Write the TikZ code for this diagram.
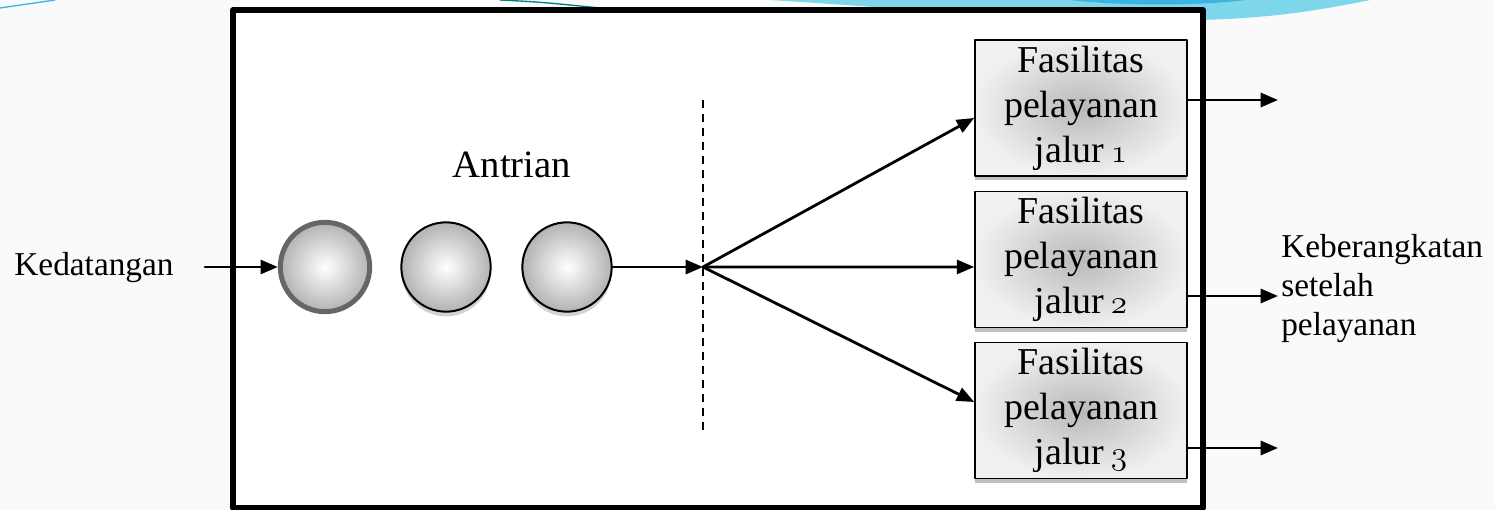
\documentclass[tikz,border=0pt]{standalone}
\usepackage{fontspec}
\setmainfont{Liberation Serif}
\usetikzlibrary{arrows.meta,shadows}
\definecolor{langit}{RGB}{125,214,234}
\definecolor{lautbiru}{RGB}{60,180,225}
\definecolor{tepi}{RGB}{102,102,102}
\newcommand{\angka}[1]{{\usefont{OML}{lmm}{m}{it}#1}}
\tikzset{
  bola/.style={circle,minimum size=67pt,inner sep=0pt,draw=black,line width=1.5pt,inner color=white,outer color=gray!60},
  pelanggan/.style={bola,drop shadow={opacity=0.35,shadow xshift=0pt,shadow yshift=-3.5pt}},
  fasilitas/.style={rectangle,draw=black,line width=1.2pt,minimum width=159pt,minimum height=102pt,inner sep=0pt,align=center,
    font=\fontsize{28.5}{33.75}\selectfont,inner color=gray!55,outer color=gray!12,
    drop shadow={opacity=0.5,shadow xshift=0pt,shadow yshift=-3pt}},
  keterangan/.style={font=\fontsize{25}{29.25}\selectfont,align=left,inner sep=0pt},
  panah/.style={line width=2.1pt,-{Triangle[length=13pt,width=10.5pt]}}
}
\begin{document}
\begin{tikzpicture}[line cap=round,line join=round,x=0.75pt,y=-0.75pt]
\useasboundingbox (0,0) rectangle (1495,510);
\fill[black!2] (0,0) rectangle (1495,510);
\fill[langit] (770,0) .. controls (900,8) and (1050,22) .. (1200,20) .. controls (1280,18) and (1330,8) .. (1370,0) -- cycle;
\fill[lautbiru] (1070,0) .. controls (1120,6) and (1200,6) .. (1245,0) -- cycle;
\draw[lautbiru,line width=1pt] (0,8) -- (55,0);
\draw[teal,line width=1pt] (500,0) .. controls (540,2) .. (600,8);
\draw[line width=4pt,fill=white] (233,10) rectangle (1203,508);
\node[bola,draw=tepi,line width=3.75pt] (c1) at (325,267) {};
\node[pelanggan] (c2) at (446,267) {};
\node[pelanggan] (c3) at (567,267) {};
\node[keterangan] (datang) at (94,268) {Kedatangan};
\node[font=\fontsize{29}{34}\selectfont] (antrian) at (512,165) {Antrian};
\coordinate (masuk) at (205,267);
\coordinate (hub) at (703,267);
\coordinate (atas) at (703,100);
\coordinate (bawah) at (703,432);
\draw[line cap=butt,line width=1pt,dash pattern=on 6pt off 4.5pt] (atas) -- (bawah);
\node[fasilitas] (f1) at (1081,108) {Fasilitas\\pelayanan\\jalur\,\angka{1}};
\node[fasilitas] (f2) at (1081,259.5) {Fasilitas\\pelayanan\\jalur\,\angka{2}};
\node[fasilitas] (f3) at (1081,410.5) {Fasilitas\\pelayanan\\jalur\,\angka{3}};
\coordinate (k1) at (1278,100);
\coordinate (k2) at (1278,296);
\coordinate (k3) at (1278,448);
\draw[panah] (masuk) -- (c1);
\draw[panah] (c3) -- (hub);
\draw[panah] (hub) -- ([yshift=-7.5pt]f1.west);
\draw[panah] (hub) -- ([yshift=-5.6pt]f2.west);
\draw[panah] (hub) -- ([yshift=6.4pt]f3.west);
\draw[panah] (f1.east |- k1) -- (k1);
\draw[panah] (f2.east |- k2) -- (k2);
\draw[panah] (f3.east |- k3) -- (k3);
\node[keterangan,anchor=west] (pergi) at (1281,289) {Keberangkatan\\setelah\\pelayanan};
\end{tikzpicture}
\end{document}
